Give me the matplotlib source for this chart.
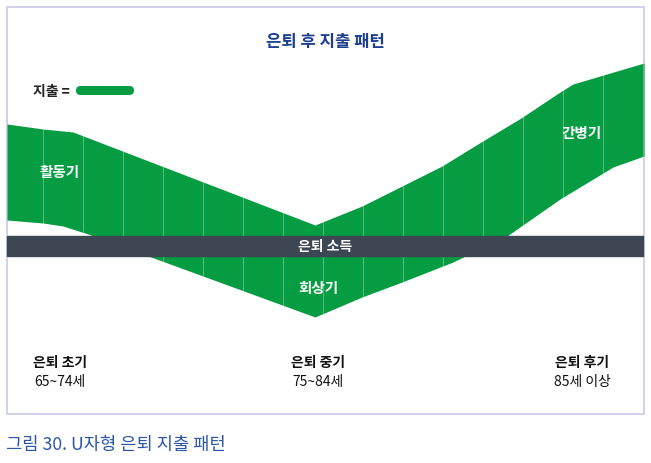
import numpy as np
import matplotlib
matplotlib.use('Agg')
import matplotlib.pyplot as plt
from matplotlib.patches import Rectangle, FancyBboxPatch

plt.rcParams['font.family'] = ['Noto Sans CJK KR', 'DejaVu Sans']

# Band edges (pixel-like layout units, y grows downward)
upper_x = [7, 43, 73, 315, 362, 402, 442, 481, 521, 560, 573, 600, 644]
upper_y = [125, 130, 133, 226, 207, 187, 167, 143, 119, 93, 85, 77, 64]
lower_x = [7, 43, 63, 88, 315, 362, 402, 453, 507, 560, 613, 644]
lower_y = [221, 224, 227, 235, 318, 298, 283, 263, 237, 200, 168, 157]

# Thin divider positions across the band
divider_x = np.arange(43, 644, 40)

phase_labels = ['활동기', '회상기', '간병기']
phase_pos = [(60, 172), (318, 288), (582, 133)]

stage_titles = ['은퇴 초기', '은퇴 중기', '은퇴 후기']
stage_ages = ['65~74세', '75~84세', '85세 이상']
stage_x = [60, 318, 582]

green = '#069c42'
navy = '#3d4754'

fig = plt.figure(figsize=(6.51, 4.64), dpi=100)
ax = fig.add_axes([0, 0, 1, 1])
ax.set_xlim(0, 651)
ax.set_ylim(464, 0)
ax.axis('off')

# frame
ax.add_patch(Rectangle((7, 8), 637, 407, fill=False, edgecolor='#c9c9e6', linewidth=1.2))

# spending band
xs = np.arange(7, 645)
top = np.interp(xs, upper_x, upper_y)
bot = np.interp(xs, lower_x, lower_y)
ax.fill_between(xs, top, bot, color=green, linewidth=0, zorder=2)
for dx in divider_x:
    ax.plot([dx, dx], [np.interp(dx, upper_x, upper_y), np.interp(dx, lower_x, lower_y)],
            color='white', alpha=0.3, linewidth=0.8, zorder=3)

# retirement income bar
ax.add_patch(Rectangle((7, 237), 636, 20, color=navy, zorder=4))
ax.text(325, 247.5, '은퇴 소득', color='white', fontsize=10, fontweight='bold',
        ha='center', va='center', zorder=5)

# title
ax.text(325, 42, '은퇴 후 지출 패턴', color='#1c3f8f', fontsize=12, fontweight='bold',
        ha='center', va='center')

# legend
ax.text(33, 92, '지출 =', color='#222222', fontsize=10, fontweight='bold', ha='left', va='center')
ax.add_patch(FancyBboxPatch((76, 87), 58, 9, boxstyle='round,pad=0,rounding_size=4.5',
                            color=green, linewidth=0))

for lab, (px, py) in zip(phase_labels, phase_pos):
    ax.text(px, py, lab, color='white', fontsize=10.5, fontweight='bold',
            ha='center', va='center', zorder=5)

for t, a, sx in zip(stage_titles, stage_ages, stage_x):
    ax.text(sx, 363, t, color='#111111', fontsize=10, fontweight='bold', ha='center', va='center')
    ax.text(sx, 382, a, color='#111111', fontsize=10, fontweight='medium', ha='center', va='center')

ax.text(6, 445, '그림 30. U자형 은퇴 지출 패턴', color='#2a56a8', fontsize=12.7,
        fontweight='medium', ha='left', va='center')

fig.savefig('out.png', dpi=100)
